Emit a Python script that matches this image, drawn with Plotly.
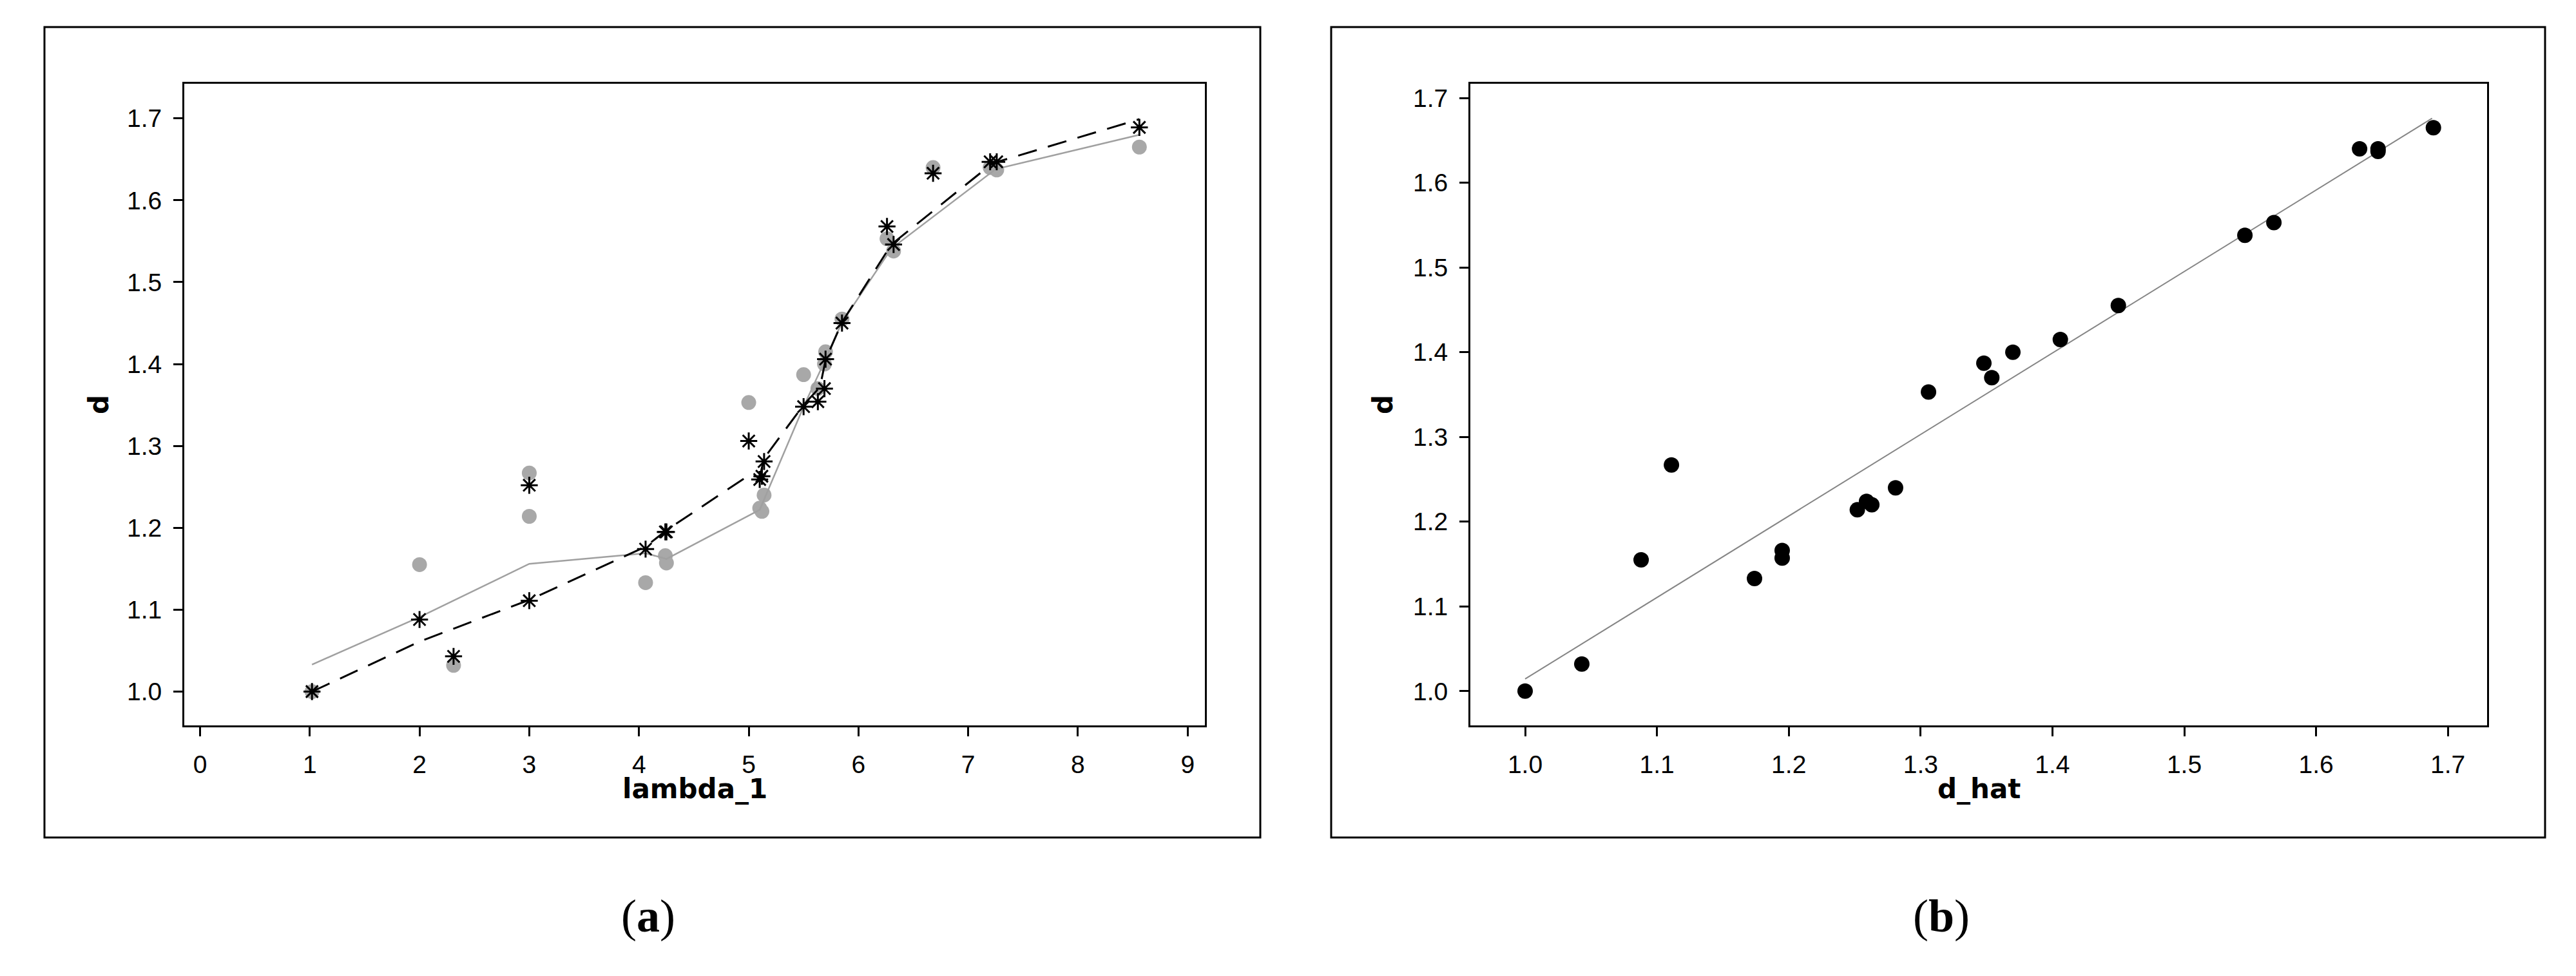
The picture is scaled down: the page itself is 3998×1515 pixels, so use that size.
import plotly.graph_objects as go

W, H = 3998, 1515

# ---------------- data ----------------
lambda_1 = [1.02, 2.00, 2.31, 3.00, 3.00, 4.06, 4.24, 4.25, 5.00, 5.10, 5.12, 5.14,
            5.50, 5.63, 5.69, 5.70, 5.85, 6.26, 6.32, 6.68, 7.20, 7.26, 8.56]
d = [1.000, 1.155, 1.032, 1.267, 1.214, 1.133, 1.166, 1.157, 1.353, 1.224, 1.220, 1.240,
     1.387, 1.370, 1.400, 1.415, 1.455, 1.553, 1.538, 1.640, 1.640, 1.637, 1.665]
d_hat = [1.000, 1.088, 1.043, 1.111, 1.252, 1.174, 1.195, 1.195, 1.306, 1.259, 1.263, 1.281,
         1.348, 1.354, 1.370, 1.406, 1.450, 1.568, 1.546, 1.633, 1.647, 1.647, 1.689]

# smoother through d (grey solid line) in panel (a)
smooth_d_x = [1.02, 2.00, 3.00, 4.06, 4.25, 5.10, 5.50, 5.69, 5.85, 6.30, 7.25, 8.56]
smooth_d_y = [1.033, 1.091, 1.156, 1.169, 1.162, 1.222, 1.348, 1.403, 1.451, 1.541, 1.638, 1.680]

# smoother through d_hat (black dashed line) in panel (a)
smooth_dhat_x = [1.02, 2.00, 3.00, 4.06, 4.25, 5.00, 5.10, 5.14, 5.50, 5.65, 5.70, 5.85, 6.30, 7.22, 8.56]
smooth_dhat_y = [1.000, 1.061, 1.112, 1.177, 1.197, 1.264, 1.262, 1.285, 1.350, 1.372, 1.405, 1.451, 1.546, 1.645, 1.699]

# fitted line in panel (b)
fit_x = [1.000, 1.688]
fit_y = [1.0144, 1.676]

x_ticks_a = [0, 1, 2, 3, 4, 5, 6, 7, 8, 9]
y_ticks = [1.0, 1.1, 1.2, 1.3, 1.4, 1.5, 1.6, 1.7]
y_ticktext = ["1.0", "1.1", "1.2", "1.3", "1.4", "1.5", "1.6", "1.7"]
x_ticks_b = [1.0, 1.1, 1.2, 1.3, 1.4, 1.5, 1.6, 1.7]

# ---------------- figure ----------------
fig = go.Figure()

fig.add_trace(go.Scatter(x=lambda_1, y=d, mode="markers", xaxis="x", yaxis="y",
                         marker=dict(symbol="circle", size=23, color="#a8a8a8"),
                         showlegend=False))
fig.add_trace(go.Scatter(x=smooth_d_x, y=smooth_d_y, mode="lines", xaxis="x", yaxis="y",
                         line=dict(color="#a0a0a0", width=2.5), showlegend=False))
fig.add_trace(go.Scatter(x=smooth_dhat_x, y=smooth_dhat_y, mode="lines", xaxis="x", yaxis="y",
                         line=dict(color="black", width=3, dash="30px,18px"), showlegend=False))
fig.add_trace(go.Scatter(x=lambda_1, y=d_hat, mode="markers", xaxis="x", yaxis="y",
                         marker=dict(symbol="asterisk-open", size=22, color="black",
                                     line=dict(color="black", width=3)),
                         showlegend=False))

fig.add_trace(go.Scatter(x=fit_x, y=fit_y, mode="lines", xaxis="x2", yaxis="y2",
                         line=dict(color="#858585", width=2), showlegend=False))
fig.add_trace(go.Scatter(x=d_hat, y=d, mode="markers", xaxis="x2", yaxis="y2",
                         marker=dict(symbol="circle", size=24, color="black"),
                         showlegend=False))

tick_font = dict(family="Liberation Sans", size=39, color="black")
axis_common = dict(showline=True, linecolor="black", linewidth=3, mirror=True,
                   ticks="outside", ticklen=14, tickwidth=3, tickcolor="black",
                   showgrid=False, zeroline=False, tickfont=tick_font,
                   ticklabelstandoff=10)

def px_x(p):
    return p / W

def px_y(p):
    return 1 - p / H

fig.update_layout(
    width=W, height=H,
    margin=dict(l=0, r=0, t=0, b=0),
    paper_bgcolor="white", plot_bgcolor="white",
    xaxis=dict(domain=[px_x(278), px_x(1862)], range=[-0.144, 9.157],
               tickvals=x_ticks_a, anchor="y", **axis_common),
    yaxis=dict(domain=[px_y(1118), px_y(122)], range=[0.9587, 1.7423],
               tickvals=y_ticks, ticktext=y_ticktext, anchor="x", **axis_common),
    xaxis2=dict(domain=[px_x(2274), px_x(3852)], range=[0.95845, 1.72972],
                tickvals=x_ticks_b, ticktext=y_ticktext, anchor="y2", **axis_common),
    yaxis2=dict(domain=[px_y(1118), px_y(122)], range=[0.9596, 1.7168],
                tickvals=y_ticks, ticktext=y_ticktext, anchor="x2", **axis_common),
)

# outer frames
for x0, x1 in [(61, 1948), (2058, 3942)]:
    fig.add_shape(type="rect", xref="paper", yref="paper",
                  x0=px_x(x0), x1=px_x(x1), y0=px_y(1292), y1=px_y(34),
                  line=dict(color="black", width=3), fillcolor="rgba(0,0,0,0)")

title_font = dict(family="DejaVu Sans", size=42, color="black")
annots = [
    dict(text="<b>lambda_1</b>", x=px_x(1070), y=px_y(1216), textangle=0),
    dict(text="<b>d_hat</b>", x=px_x(3063), y=px_y(1216), textangle=0),
    dict(text="<b>d</b>", x=px_x(145), y=px_y(620), textangle=-90),
    dict(text="<b>d</b>", x=px_x(2138), y=px_y(620), textangle=-90),
]
for a in annots:
    fig.add_annotation(xref="paper", yref="paper", showarrow=False,
                       xanchor="center", yanchor="middle", font=title_font, **a)

cap_font = dict(family="Liberation Serif", size=72, color="black")
for txt, xc in [("(<b>a</b>)", 998), ("(<b>b</b>)", 3005)]:
    fig.add_annotation(xref="paper", yref="paper", showarrow=False, text=txt,
                       x=px_x(xc), y=px_y(1414), xanchor="center", yanchor="middle",
                       font=cap_font)

fig.write_html("out.html")
